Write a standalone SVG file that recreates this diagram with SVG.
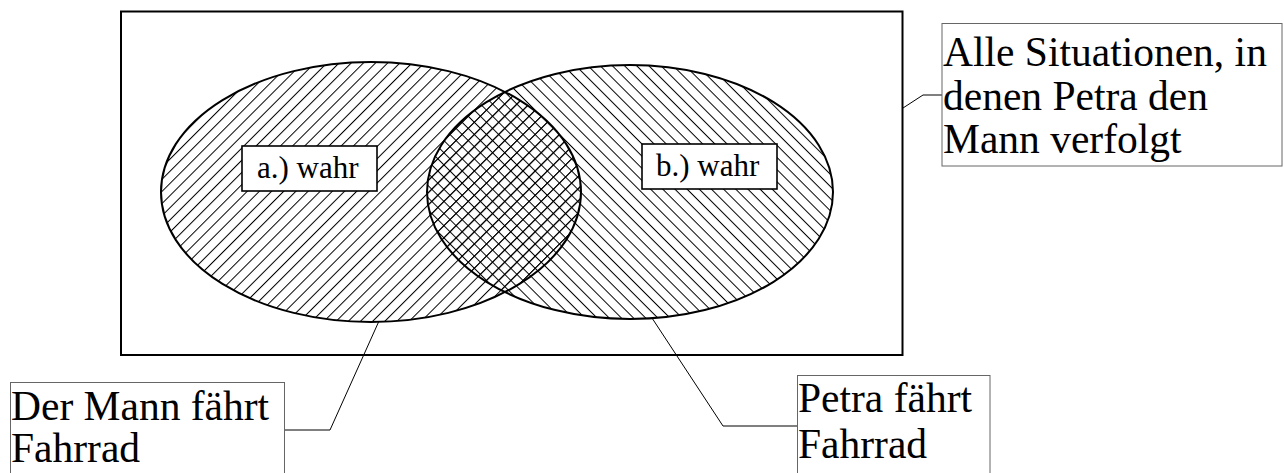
<svg xmlns="http://www.w3.org/2000/svg" width="1284" height="473" viewBox="0 0 1284 473">
<style>
.big{font-family:'Times New Roman','Liberation Serif',Tinos,serif;font-size:41.5px;fill:#000}
.small{font-family:'Times New Roman','Liberation Serif',Tinos,serif;font-size:31px;fill:#000}
.ell{fill:none;stroke:#000;stroke-width:2}
.hatch{stroke:#000;stroke-width:1}
.lbl{fill:#fff;stroke:#666;stroke-width:1}
.sbox{fill:#fff;stroke:#000;stroke-width:1.6}
.conn{fill:none;stroke:#000;stroke-width:1}
</style>
<defs>
<pattern id="hLeft" patternUnits="userSpaceOnUse" width="8.6" height="8.6" patternTransform="rotate(-45)">
<line class="hatch" x1="0" y1="0.5" x2="8.6" y2="0.5"/>
</pattern>
<pattern id="hRight" patternUnits="userSpaceOnUse" width="8.6" height="8.6" patternTransform="rotate(45)">
<line class="hatch" x1="0" y1="0.5" x2="8.6" y2="0.5"/>
</pattern>
<clipPath id="clipLeft"><ellipse cx="371" cy="192" rx="210" ry="130"/></clipPath>
</defs>
<rect x="121" y="11.5" width="781.5" height="343.5" fill="#fff" stroke="#000" stroke-width="2"/>
<g id="leftSet">
<ellipse cx="371" cy="192" rx="210" ry="130" fill="url(#hLeft)"/>
</g>
<g id="rightSet">
<ellipse cx="630" cy="192" rx="203" ry="127" fill="url(#hRight)"/>
<ellipse cx="630" cy="192" rx="203" ry="127" fill="url(#hLeft)" clip-path="url(#clipLeft)"/>
<ellipse class="ell" cx="630" cy="192" rx="203" ry="127"/>
</g>
<ellipse class="ell" cx="371" cy="192" rx="210" ry="130"/>
<g id="connectors">
<polyline class="conn" points="903,108 923,95 942,95"/>
<polyline class="conn" points="379,321 330,430 284,430"/>
<polyline class="conn" points="652,318 723,426 797,426"/>
</g>
<g id="labelA">
<rect class="sbox" x="242" y="146" width="135" height="45"/>
<text class="small" x="257" y="178">a.) wahr</text>
</g>
<g id="labelB">
<rect class="sbox" x="642" y="144" width="135" height="45"/>
<text class="small" x="656" y="176">b.) wahr</text>
</g>
<g id="labelAll">
<rect class="lbl" x="942" y="23.5" width="340" height="142.5"/>
<text class="big" x="943" y="66">Alle Situationen, in</text>
<text class="big" x="943" y="109.5">denen Petra den</text>
<text class="big" x="943" y="153">Mann verfolgt</text>
</g>
<g id="labelMann">
<rect class="lbl" x="10.5" y="382.5" width="274" height="100"/>
<text class="big" x="11" y="420">Der Mann fährt</text>
<text class="big" x="11" y="462">Fahrrad</text>
</g>
<g id="labelPetra">
<rect class="lbl" x="797.5" y="375.5" width="192.5" height="110"/>
<text class="big" x="798" y="412">Petra fährt</text>
<text class="big" x="798" y="458">Fahrrad</text>
</g>
</svg>
